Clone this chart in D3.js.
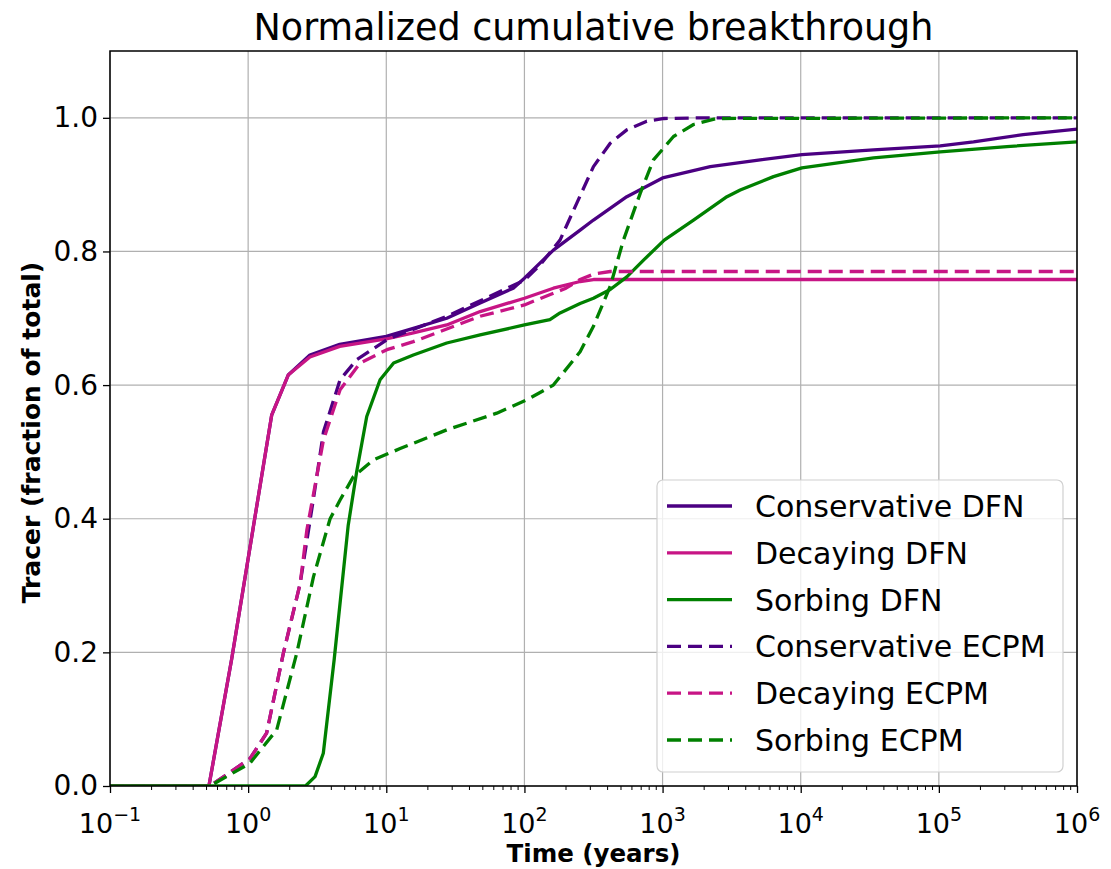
<!DOCTYPE html>
<html>
<head>
<meta charset="utf-8">
<script src="https://cdn.jsdelivr.net/npm/d3@7"></script>
<style>
  html, body { margin: 0; padding: 0; background: #fff; }
  text { font-family: "DejaVu Sans", sans-serif; }
</style>
</head>
<body>
<svg id="chart" width="1111" height="869"></svg>
<script>
// ---- data (time in years, fraction of total) ----
const consDFN_t = [0.1, 0.52, 0.76, 1.48, 1.95, 2.8, 4.6, 10, 15.7, 27.4, 47.8, 83, 100, 162, 253, 316, 551, 1000, 2213, 5093, 10200, 33650, 102300, 178200, 408000, 1e6];
const consDFN_v = [0, 0, 0.19, 0.555, 0.615, 0.645, 0.661, 0.673, 0.685, 0.700, 0.723, 0.745, 0.760, 0.802, 0.832, 0.847, 0.882, 0.910, 0.927, 0.937, 0.945, 0.952, 0.958, 0.964, 0.975, 0.983];

const decDFN_t = [0.1, 0.52, 0.76, 1.48, 1.95, 2.8, 4.6, 10, 15.7, 27.4, 47.8, 100, 162, 253, 316, 1e6];
const decDFN_v = [0, 0, 0.19, 0.555, 0.615, 0.642, 0.658, 0.669, 0.678, 0.690, 0.710, 0.730, 0.745, 0.755, 0.758, 0.758];

const sorbDFN_t = [0.1, 2.6, 3.05, 3.5, 4.2, 5.3, 6.1, 7.22, 9.02, 11.3, 15.7, 27.4, 47.8, 100, 153, 181, 253, 316, 418, 551, 728, 1028, 1675, 2924, 3648, 6353, 10200, 33650, 102300, 311000, 1e6];
const sorbDFN_v = [0, 0, 0.014, 0.049, 0.19, 0.39, 0.47, 0.553, 0.608, 0.633, 0.645, 0.663, 0.675, 0.690, 0.698, 0.708, 0.722, 0.730, 0.743, 0.762, 0.787, 0.817, 0.847, 0.882, 0.892, 0.912, 0.925, 0.940, 0.949, 0.957, 0.964];

const consECPM_t = [0.1, 0.53, 1.03, 1.36, 1.8, 2.38, 2.97, 3.51, 4.63, 6.11, 10.1, 27.4, 100, 130, 181, 239, 316, 418, 551, 769, 1028, 2000, 1e6];
const consECPM_v = [0, 0, 0.041, 0.079, 0.199, 0.303, 0.43, 0.53, 0.608, 0.638, 0.668, 0.703, 0.757, 0.78, 0.817, 0.872, 0.927, 0.962, 0.982, 0.995, 0.999, 1.0, 1.0];

const decECPM_t = [0.1, 0.53, 1.03, 1.36, 1.8, 2.38, 2.66, 3.51, 4.63, 6.46, 10.1, 15.7, 47.8, 100, 200, 253, 316, 418, 1e6];
const decECPM_v = [0, 0, 0.041, 0.079, 0.199, 0.303, 0.383, 0.518, 0.593, 0.633, 0.653, 0.665, 0.703, 0.720, 0.745, 0.758, 0.766, 0.770, 0.770];

const sorbECPM_t = [0.1, 0.53, 1.03, 1.61, 2.25, 2.97, 3.92, 4.63, 5.78, 8.07, 12.6, 27.4, 63.1, 104, 162, 253, 316, 418, 521, 689, 859, 1200, 1675, 2473, 1e6];
const sorbECPM_v = [0, 0, 0.034, 0.084, 0.199, 0.313, 0.400, 0.428, 0.463, 0.488, 0.505, 0.533, 0.558, 0.578, 0.600, 0.650, 0.688, 0.748, 0.817, 0.887, 0.937, 0.972, 0.990, 0.999, 1.0];

const seriesNames = ["Conservative DFN", "Decaying DFN", "Sorbing DFN", "Conservative ECPM", "Decaying ECPM", "Sorbing ECPM"];
const seriesColors = ["#4b0082", "#c71585", "#008000", "#4b0082", "#c71585", "#008000"];
const seriesDashed = [false, false, false, true, true, true];
const seriesT = [consDFN_t, decDFN_t, sorbDFN_t, consECPM_t, decECPM_t, sorbECPM_t];
const seriesV = [consDFN_v, decDFN_v, sorbDFN_v, consECPM_v, decECPM_v, sorbECPM_v];

const xTickExps = [-1, 0, 1, 2, 3, 4, 5, 6];
const yTicks = [0, 0.2, 0.4, 0.6, 0.8, 1.0];

// ---- layout ----
const svg = d3.select("#chart");
const L = 110, R = 1077, T = 51, B = 786;
const x = d3.scaleLog().domain([0.1, 1e6]).range([L, R]);
const y = d3.scaleLinear().domain([0, 1.1]).range([B, T]);
const DASH = "14,7";

// grid
const grid = svg.append("g");
xTickExps.forEach(e => {
  grid.append("line").attr("x1", x(Math.pow(10, e))).attr("x2", x(Math.pow(10, e)))
    .attr("y1", T).attr("y2", B).attr("stroke", "#b0b0b0").attr("stroke-width", 1.2);
});
yTicks.forEach(v => {
  grid.append("line").attr("x1", L).attr("x2", R).attr("y1", y(v)).attr("y2", y(v))
    .attr("stroke", "#b0b0b0").attr("stroke-width", 1.2);
});

// lines
svg.append("defs").append("clipPath").attr("id", "clip")
  .append("rect").attr("x", L).attr("y", T).attr("width", R - L).attr("height", B - T);
const line = d3.line().x(d => x(d[0])).y(d => y(d[1]));
const lines = svg.append("g").attr("clip-path", "url(#clip)");
seriesNames.forEach((n, i) => {
  const pts = seriesT[i].map((t, j) => [t, seriesV[i][j]]);
  lines.append("path").datum(pts).attr("d", line)
    .attr("fill", "none").attr("stroke", seriesColors[i]).attr("stroke-width", 3.3)
    .attr("stroke-linejoin", "round")
    .attr("stroke-dasharray", seriesDashed[i] ? DASH : null);
});

// axes
const xAxis = d3.axisBottom(x).tickValues(xTickExps.map(e => Math.pow(10, e)))
  .tickFormat(() => "").tickSize(7).tickSizeOuter(0);
const gx = svg.append("g").attr("transform", `translate(0,${B})`).call(xAxis);
gx.select(".domain").remove();
gx.selectAll(".tick line").attr("stroke", "#000").attr("stroke-width", 1.3);
// minor ticks
const minor = [];
for (let e = -1; e < 6; e++) for (let k = 2; k <= 9; k++) minor.push(k * Math.pow(10, e));
gx.selectAll(".minor").data(minor).enter().append("line").attr("class", "minor")
  .attr("x1", d => x(d)).attr("x2", d => x(d)).attr("y1", 0).attr("y2", 4)
  .attr("stroke", "#000").attr("stroke-width", 1);
// x tick labels with superscripts
xTickExps.forEach(e => {
  const t = gx.append("text").attr("x", x(Math.pow(10, e))).attr("y", 47)
    .attr("text-anchor", "middle").attr("font-size", 27).attr("fill", "#000");
  t.append("tspan").text("10");
  t.append("tspan").attr("dy", -12).attr("font-size", 19).text(e < 0 ? "\u2212" + Math.abs(e) : String(e));
});

const yAxis = d3.axisLeft(y).tickValues(yTicks).tickFormat(d3.format(".1f")).tickSize(7).tickPadding(5).tickSizeOuter(0);
const gy = svg.append("g").attr("transform", `translate(${L},0)`).call(yAxis);
gy.select(".domain").remove();
gy.selectAll(".tick line").attr("stroke", "#000").attr("stroke-width", 1.3);
gy.selectAll(".tick text").attr("font-size", 28).attr("font-family", "DejaVu Sans").attr("fill", "#000");

// frame
svg.append("rect").attr("x", L).attr("y", T).attr("width", R - L).attr("height", B - T)
  .attr("fill", "none").attr("stroke", "#000").attr("stroke-width", 1.5);

// title and labels
svg.append("text").attr("x", (L + R) / 2).attr("y", 40).attr("text-anchor", "middle")
  .attr("font-size", 36.5).attr("fill", "#000").text("Normalized cumulative breakthrough");
svg.append("text").attr("x", (L + R) / 2).attr("y", 862).attr("text-anchor", "middle")
  .attr("font-size", 24.5).attr("font-weight", "bold").attr("fill", "#000").text("Time (years)");
svg.append("text").attr("transform", `translate(40,${(T + B) / 2 + 14}) rotate(-90)`)
  .attr("text-anchor", "middle").attr("font-size", 25).attr("font-weight", "bold")
  .attr("fill", "#000").text("Tracer (fraction of total)");

// legend
const lg = svg.append("g");
lg.append("rect").attr("x", 657).attr("y", 480).attr("width", 406).attr("height", 292)
  .attr("rx", 6).attr("fill", "#fff").attr("fill-opacity", 0.8)
  .attr("stroke", "#d0d0d0").attr("stroke-width", 1.2);
seriesNames.forEach((n, i) => {
  const cy = 506 + i * 46.8;
  lg.append("line").attr("x1", 667).attr("x2", 732).attr("y1", cy).attr("y2", cy)
    .attr("stroke", seriesColors[i]).attr("stroke-width", 3.3)
    .attr("stroke-dasharray", seriesDashed[i] ? DASH : null);
  lg.append("text").attr("x", 755).attr("y", cy + 11).attr("font-size", 30)
    .attr("fill", "#000").text(n);
});
</script>
</body>
</html>
